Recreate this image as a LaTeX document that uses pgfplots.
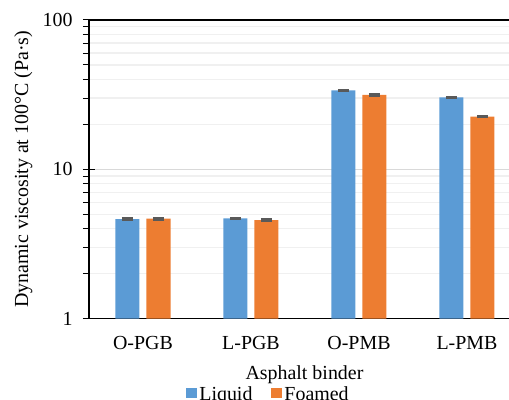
\documentclass[border=0pt]{standalone}
\usepackage{fontspec}
\setmainfont{Liberation Serif}
\usepackage{pgfplots}
\pgfplotsset{compat=1.18}
\definecolor{cblue}{HTML}{5B9BD5}
\definecolor{corange}{HTML}{ED7D31}
\definecolor{errc}{HTML}{595959}
\definecolor{gmaj}{HTML}{D9D9D9}
\definecolor{gmin}{HTML}{F0F0F0}
\begin{document}
\begin{tikzpicture}
\begin{axis}[
  at={(89bp,81.5bp)}, anchor=south west,
  scale only axis, width=420bp, height=298.5bp,
  font=\fontsize{20}{24}\selectfont,
  /pgf/number format/assume math mode=true,
  ymode=log, ymin=1, ymax=100,
  xmin=-0.5, xmax=3.389,
  axis x line*=box, axis y line*=left,
  axis line style={black, line width=1.2bp},
  xtick={0,1,2,3}, xticklabels={O-PGB,L-PGB,O-PMB,L-PMB},
  x tick style={draw=none},
  xticklabel style={yshift=-8bp},
  ytick={1,10,100}, yticklabels={1,10,100},
  yticklabel style={xshift=-7bp},
  minor ytick={2,3,4,5,6,7,8,9,20,30,40,50,60,70,80,90},
  tick align=outside,
  major tick length=6bp, minor tick length=6bp,
  y tick style={black, line width=1bp},
  extra y ticks={1,10,100}, extra y tick labels={},
  extra y tick style={tick align=inside, grid=none},
  ymajorgrids=true, yminorgrids=true,
  major grid style={draw=gmaj, line width=1.3bp},
  minor grid style={draw=gmin, line width=1.3bp},
  xlabel={Asphalt binder},
  xlabel style={at={(axis description cs:0.513,-0.206)}, anchor=base, inner sep=0pt},
  ylabel={Dynamic viscosity at 100°C (Pa·s)},
  ylabel style={at={(axis description cs:-0.1786,0.5)}, anchor=north, inner sep=0pt},
  legend columns=2,
  legend style={at={(axis description cs:0.4262,-0.285)}, anchor=south,
    draw=none, fill=none, inner sep=0pt,
    font=\fontsize{20}{24}\selectfont,
    nodes={inner sep=1.5bp},
    /tikz/every odd column/.append style={column sep=1bp},
    /tikz/every even column/.append style={column sep=17bp}},
  legend image code/.code={\fill[#1] (0bp,-4bp) rectangle (11bp,6bp);},
]
\addplot[ybar, bar width=24bp, bar shift=-15.5bp, fill=cblue, draw=none,
  error bars/.cd, y dir=both, y explicit, error mark=|,
  error bar style={errc, line width=1bp, xshift=-15.5bp},
  error mark options={errc, line width=2.5bp, mark size=5.5bp}]
  coordinates {(0,4.63) +- (0,0.04) (1,4.69) +- (0,0.04) (2,33.8) +- (0,0.25) (3,30.3) +- (0,0.2)};
\addlegendentry{Liquid}
\addplot[ybar, bar width=24bp, bar shift=15.5bp, fill=corange, draw=none,
  error bars/.cd, y dir=both, y explicit, error mark=|,
  error bar style={errc, line width=1bp, xshift=15.5bp},
  error mark options={errc, line width=2.5bp, mark size=5.5bp}]
  coordinates {(0,4.66) +- (0,0.05) (1,4.57) +- (0,0.08) (2,31.45) +- (0,0.25) (3,22.5) +- (0,0.15)};
\addlegendentry{Foamed}
\end{axis}
\pgfresetboundingbox
\useasboundingbox (0,0) rectangle (509bp,400bp);
\end{tikzpicture}
\end{document}
